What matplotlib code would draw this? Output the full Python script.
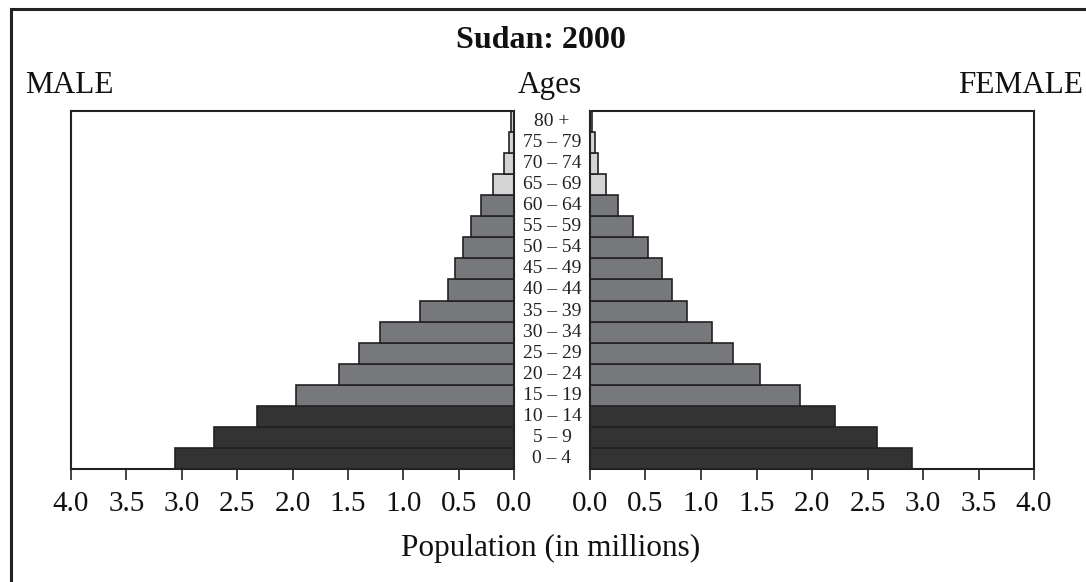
import matplotlib
matplotlib.use("Agg")
import matplotlib.pyplot as plt
from matplotlib.patches import Rectangle

plt.rcParams['font.family'] = ['Liberation Serif', 'DejaVu Serif']

# Sudan 2000 population by age group (millions), youngest first
ages = ["0 – 4", "5 – 9", "10 – 14", "15 – 19", "20 – 24", "25 – 29", "30 – 34",
        "35 – 39", "40 – 44", "45 – 49", "50 – 54", "55 – 59", "60 – 64",
        "65 – 69", "70 – 74", "75 – 79", "80 +"]
male = [3.06, 2.71, 2.32, 1.97, 1.58, 1.40, 1.21, 0.85, 0.60, 0.535, 0.46,
        0.385, 0.30, 0.19, 0.093, 0.048, 0.03]
female = [2.90, 2.59, 2.21, 1.89, 1.53, 1.29, 1.10, 0.87, 0.74, 0.65, 0.525,
          0.39, 0.25, 0.144, 0.075, 0.045, 0.02]
# colour group per age band: 0 = children, 1 = working age, 2 = elderly
group = [0, 0, 0, 1, 1, 1, 1, 1, 1, 1, 1, 1, 1, 2, 2, 2, 2]
ticks = [0.0, 0.5, 1.0, 1.5, 2.0, 2.5, 3.0, 3.5, 4.0]

palette = ['#333333', '#77787b', '#d4d4d4']
colors = [palette[g] for g in group]
edge = '#222222'

W, H = 1086, 582
fig = plt.figure(figsize=(W / 100, H / 100), dpi=100)

# outer frame (right and bottom edges fall off the page, as in the original)
fig.patches.append(Rectangle((11 / W, -0.05), 1.0, 1 - 9 / H + 0.05,
                             transform=fig.transFigure, fill=False,
                             edgecolor='#222222', linewidth=2.2))

ax_l = fig.add_axes([71 / W, 1 - 469 / H, 443 / W, 358 / H])
ax_r = fig.add_axes([590 / W, 1 - 469 / H, 444 / W, 358 / H])

y = list(range(len(ages)))
ax_l.barh(y, male, height=1.0, color=colors, edgecolor=edge, linewidth=1.2)
ax_r.barh(y, female, height=1.0, color=colors, edgecolor=edge, linewidth=1.2)

for ax in (ax_l, ax_r):
    ax.set_xlim(0, 4)
    ax.set_ylim(-0.5, len(ages) - 0.5)
    ax.set_yticks([])
    ax.set_xticks(ticks)
    ax.set_xticklabels([f"{t:.1f}" for t in ticks])
    ax.tick_params(axis='x', direction='out', length=8, width=1.2,
                   pad=8, labelsize=21, colors='#222222', labelcolor='#111111')
    for s in ax.spines.values():
        s.set_linewidth(1.5)
        s.set_color('#222222')
ax_l.invert_xaxis()

# age labels in the gap between the two halves
for i, a in enumerate(ages):
    ax_l.annotate(a, xy=(0, i), xycoords='data', xytext=(38, 0),
                  textcoords='offset pixels', ha='center', va='center',
                  fontsize=14, color='#222222', annotation_clip=False)

fig.text(541 / W, 1 - 48 / H, "Sudan: 2000", fontsize=23, fontweight='bold',
         ha='center', va='baseline', color='#111111')
fig.text(25 / W, 1 - 93 / H, "MALE", fontsize=22.5, ha='left',
         va='baseline', color='#111111')
fig.text(550 / W, 1 - 93 / H, "Ages", fontsize=22.5, ha='center',
         va='baseline', color='#111111')
fig.text(1083 / W, 1 - 93 / H, "FEMALE", fontsize=22.5, ha='right',
         va='baseline', color='#111111')
fig.text(551 / W, 1 - 556 / H, "Population (in millions)", fontsize=22.5,
         ha='center', va='baseline', color='#111111')

fig.savefig("out.png", dpi=100)
